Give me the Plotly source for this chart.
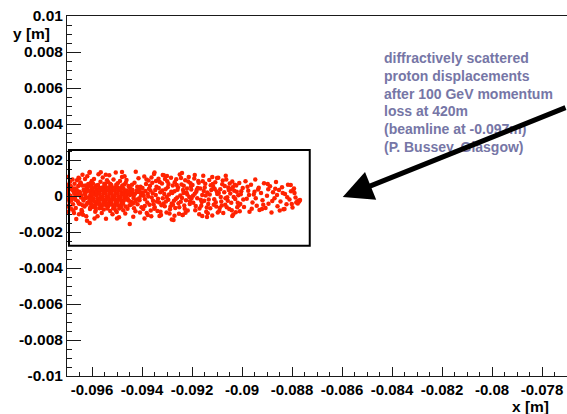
import plotly.graph_objects as go

# ---------------- data (metres) ----------------
# points hugging the left edge (beamline)
x_edge = [-0.09698, -0.09697, -0.09699, -0.09696, -0.09698, -0.09695, -0.09692, -0.09690, -0.09688, -0.09686,
          -0.09684, -0.09682, -0.09680, -0.09678, -0.09676, -0.09674, -0.09672, -0.09670, -0.09694, -0.09691,
          -0.09687, -0.09683, -0.09679, -0.09675, -0.09671]
y_edge = [0.00105, 0.00062, 0.00021, -0.00018, -0.00055, -0.00088, 0.00038, -0.00032, 0.00079, 0.00002,
          -0.00071, 0.00049, -0.00012, 0.00092, -0.00046, 0.00027, -0.00095, 0.00068, 0.00011, -0.00062,
          0.00057, -0.00023, 0.00035, -0.00081, 0.00014]

x_near = [-0.09668, -0.09665, -0.09662, -0.09660, -0.09657, -0.09655, -0.09652, -0.09650, -0.09648, -0.09645,
          -0.09643, -0.09640, -0.09638, -0.09635, -0.09633, -0.09630, -0.09628, -0.09625, -0.09623, -0.09620,
          -0.09618, -0.09615, -0.09613, -0.09610, -0.09608, -0.09605, -0.09603, -0.09601, -0.09666, -0.09658,
          -0.09649, -0.09641, -0.09632, -0.09624, -0.09616, -0.09607, -0.09663, -0.09646, -0.09629, -0.09612,
          -0.09654, -0.09637, -0.09621, -0.09604, -0.09659, -0.09642, -0.09626, -0.09609, -0.09609, -0.09620,
          -0.09667, -0.09661, -0.09653, -0.09647, -0.09639, -0.09634, -0.09627, -0.09622, -0.09617, -0.09611,
          -0.09606, -0.09651, -0.09636, -0.09619, -0.09644]
y_near = [0.00041, -0.00067, 0.00012, 0.00088, -0.00029, 0.00055, -0.00102, 0.00023, -0.00044, 0.00071,
          0.00003, -0.00085, 0.00118, -0.00015, 0.00036, -0.00058, 0.00094, 0.00019, -0.00112, 0.00047,
          -0.00038, 0.00066, -0.00007, 0.00129, -0.00072, 0.00028, -0.00049, 0.00083, -0.00021, 0.00009,
          0.00062, -0.00093, 0.00031, -0.00011, 0.00052, -0.00064, -0.00128, 0.00075, 0.00017, -0.00034,
          0.00102, -0.00052, 0.00042, -0.00004, 0.00025, -0.00078, 0.00058, 0.00134, -0.00150, -0.00138,
          -0.00003, 0.00034, -0.00041, 0.00016, 0.00058, -0.00025, 0.00005, -0.00047, 0.00029, -0.00011,
          0.00010, 0.00097, -0.00104, 0.00110, -0.00009]

# dense core of the distribution
x_core = [-0.09594, -0.09591, -0.09595, -0.09592,
          -0.09582, -0.09580, -0.09583, -0.09579, -0.09581, -0.09584,
          -0.09570, -0.09568, -0.09571, -0.09567, -0.09569, -0.09572, -0.09568,
          -0.09556, -0.09558, -0.09555, -0.09559, -0.09557, -0.09554, -0.09558,
          -0.09546, -0.09544, -0.09547, -0.09543, -0.09545, -0.09548, -0.09544,
          -0.09532, -0.09534, -0.09531, -0.09535, -0.09533, -0.09530, -0.09534,
          -0.09522, -0.09520, -0.09523, -0.09519, -0.09521, -0.09524, -0.09520,
          -0.09508, -0.09510, -0.09507, -0.09511, -0.09509, -0.09506, -0.09510,
          -0.09498, -0.09496, -0.09499, -0.09495, -0.09497, -0.09500, -0.09496,
          -0.09484, -0.09486, -0.09483, -0.09487, -0.09485, -0.09482, -0.09486,
          -0.09474, -0.09472, -0.09475, -0.09471, -0.09473, -0.09476,
          -0.09462, -0.09460, -0.09463, -0.09459]
y_core = [0.00025, 0.00008, -0.00012, -0.00029,
          0.00038, 0.00021, 0.00004, -0.00014, -0.00031, -0.00046,
          0.00046, 0.00030, 0.00013, -0.00004, -0.00021, -0.00037, -0.00052,
          0.00049, 0.00032, 0.00015, -0.00002, -0.00019, -0.00035, -0.00050,
          0.00050, 0.00033, 0.00016, -0.00001, -0.00018, -0.00034, -0.00051,
          0.00048, 0.00031, 0.00014, -0.00003, -0.00020, -0.00036, -0.00053,
          0.00051, 0.00034, 0.00017, 0.00000, -0.00017, -0.00033, -0.00049,
          0.00047, 0.00030, 0.00013, -0.00004, -0.00021, -0.00037, -0.00054,
          0.00049, 0.00032, 0.00015, -0.00002, -0.00019, -0.00035, -0.00051,
          0.00046, 0.00029, 0.00012, -0.00005, -0.00022, -0.00038, -0.00053,
          0.00041, 0.00024, 0.00007, -0.00010, -0.00027, -0.00043,
          0.00030, 0.00013, -0.00004, -0.00021]

# halo around the core (x from -0.0961 to -0.0940)
x_halo = [-0.09605, -0.09598, -0.09592, -0.09587, -0.09583, -0.09578, -0.09574, -0.09570, -0.09566, -0.09561,
          -0.09557, -0.09553, -0.09548, -0.09544, -0.09540, -0.09536, -0.09531, -0.09527, -0.09523, -0.09518,
          -0.09514, -0.09510, -0.09505, -0.09501, -0.09497, -0.09492, -0.09488, -0.09484, -0.09480, -0.09475,
          -0.09471, -0.09467, -0.09462, -0.09458, -0.09454, -0.09450, -0.09446, -0.09442, -0.09438, -0.09434,
          -0.09430, -0.09426, -0.09422, -0.09418, -0.09414, -0.09410, -0.09406, -0.09402, -0.09448, -0.09444,
          -0.09436, -0.09428, -0.09420, -0.09412, -0.09404, -0.09452, -0.09440, -0.09432, -0.09416, -0.09408,
          -0.09480, -0.09449, -0.09425, -0.09590, -0.09565, -0.09545, -0.09500, -0.09470, -0.09435, -0.09560,
          -0.09540, -0.09600, -0.09602, -0.09455, -0.09457,
          -0.09612, -0.09606, -0.09599, -0.09603, -0.09597, -0.09588, -0.09586, -0.09576, -0.09563, -0.09551,
          -0.09539, -0.09527, -0.09515, -0.09503, -0.09491, -0.09479, -0.09466, -0.09451, -0.09445, -0.09439,
          -0.09433, -0.09427, -0.09419, -0.09411, -0.09405, -0.09596, -0.09585, -0.09535, -0.09505, -0.09465]
y_halo = [0.00072, -0.00061, 0.00095, -0.00088, 0.00058, -0.00112, 0.00121, -0.00068, 0.00079, -0.00094,
          0.00103, -0.00075, 0.00066, -0.00127, 0.00087, -0.00059, 0.00115, -0.00083, 0.00061, -0.00101,
          0.00092, -0.00066, 0.00131, -0.00089, 0.00071, -0.00118, 0.00084, -0.00062, 0.00105, -0.00079,
          0.00064, -0.00097, 0.00089, -0.00071, 0.00056, -0.00052, 0.00042, -0.00033, 0.00018, -0.00011,
          0.00074, -0.00085, 0.00031, -0.00046, 0.00098, -0.00024, 0.00051, -0.00063, 0.00006, 0.00027,
          -0.00041, 0.00012, -0.00019, 0.00036, 0.00003, -0.00026, 0.00063, -0.00068, 0.00022, -0.00092,
          0.00133, -0.00156, 0.00135, -0.00125, 0.00132, 0.00118, -0.00125, 0.00110, -0.00115, 0.00042,
          -0.00040, 0.00040, -0.00020, 0.00025, -0.00015,
          0.00031, -0.00038, 0.00012, 0.00055, -0.00052, 0.00048, -0.00062, 0.00061, -0.00066, 0.00068,
          -0.00070, 0.00066, -0.00068, 0.00063, -0.00069, 0.00058, -0.00058, 0.00047, -0.00048, 0.00035,
          0.00002, -0.00030, 0.00051, -0.00012, 0.00021, 0.00070, -0.00078, 0.00076, -0.00080, 0.00073]

# x from -0.0940 to -0.0920
x_mid1 = [-0.09398, -0.09395, -0.09391, -0.09388, -0.09384, -0.09381, -0.09377, -0.09374, -0.09370, -0.09366,
          -0.09363, -0.09359, -0.09356, -0.09352, -0.09349, -0.09345, -0.09342, -0.09338, -0.09334, -0.09331,
          -0.09327, -0.09324, -0.09320, -0.09317, -0.09313, -0.09309, -0.09306, -0.09302, -0.09299, -0.09295,
          -0.09292, -0.09288, -0.09284, -0.09281, -0.09277, -0.09274, -0.09270, -0.09267, -0.09263, -0.09259,
          -0.09256, -0.09252, -0.09249, -0.09245, -0.09242, -0.09238, -0.09234, -0.09231, -0.09227, -0.09224,
          -0.09220, -0.09217, -0.09213, -0.09209, -0.09206, -0.09202, -0.09393, -0.09386, -0.09379, -0.09368,
          -0.09361, -0.09354, -0.09347, -0.09336, -0.09329, -0.09322, -0.09311, -0.09304, -0.09297, -0.09286,
          -0.09279, -0.09272, -0.09261, -0.09254, -0.09247, -0.09236, -0.09229, -0.09222, -0.09211, -0.09204,
          -0.09377, -0.09330, -0.09281, -0.09237, -0.09317, -0.09240, -0.09350, -0.09390,
          -0.09396, -0.09389, -0.09382, -0.09375, -0.09372, -0.09365, -0.09357, -0.09351, -0.09344, -0.09340,
          -0.09333, -0.09326, -0.09319, -0.09314, -0.09308, -0.09301, -0.09294, -0.09290, -0.09283, -0.09276,
          -0.09269, -0.09265, -0.09258, -0.09251, -0.09244, -0.09240, -0.09233, -0.09226, -0.09219, -0.09215,
          -0.09208, -0.09203, -0.09362, -0.09300, -0.09270]
y_mid1 = [0.00045, -0.00072, 0.00108, -0.00018, 0.00067, -0.00095, 0.00013, 0.00086, -0.00049, 0.00031,
          -0.00112, 0.00074, -0.00027, 0.00122, -0.00063, 0.00005, 0.00052, -0.00084, 0.00096, -0.00036,
          0.00021, -0.00106, 0.00069, -0.00012, 0.00115, -0.00057, 0.00038, -0.00091, 0.00082, -0.00021,
          0.00008, -0.00074, 0.00101, -0.00041, 0.00059, -0.00133, 0.00026, -0.00066, 0.00093, -0.00009,
          0.00047, -0.00099, 0.00119, -0.00032, 0.00064, -0.00106, 0.00017, -0.00053, 0.00088, -0.00024,
          0.00042, -0.00081, 0.00106, -0.00045, 0.00071, -0.00014, 0.00002, 0.00028, -0.00036, 0.00057,
          -0.00008, -0.00046, 0.00033, -0.00015, 0.00078, -0.00052, 0.00011, -0.00030, 0.00049, -0.00058,
          0.00016, -0.00026, 0.00061, -0.00040, 0.00003, 0.00034, -0.00071, 0.00019, -0.00006, 0.00053,
          -0.00106, -0.00111, -0.00131, -0.00106, 0.00117, 0.00128, 0.00130, -0.00125,
          0.00019, -0.00055, 0.00091, -0.00003, 0.00040, -0.00081, 0.00015, -0.00071, 0.00083, -0.00031,
          0.00044, -0.00088, 0.00030, -0.00041, 0.00095, -0.00006, 0.00066, -0.00097, 0.00024, -0.00048,
          0.00077, -0.00017, 0.00035, -0.00062, 0.00100, -0.00011, 0.00057, -0.00093, 0.00009, 0.00080,
          -0.00029, 0.00036, 0.00103, 0.00111, -0.00110]

# x from -0.0920 to -0.0900
x_mid2 = [-0.09198, -0.09195, -0.09191, -0.09187, -0.09183, -0.09179, -0.09175, -0.09171, -0.09167, -0.09163,
          -0.09159, -0.09155, -0.09151, -0.09147, -0.09143, -0.09139, -0.09135, -0.09131, -0.09127, -0.09123,
          -0.09119, -0.09115, -0.09111, -0.09107, -0.09103, -0.09099, -0.09095, -0.09091, -0.09087, -0.09083,
          -0.09079, -0.09075, -0.09071, -0.09067, -0.09063, -0.09059, -0.09055, -0.09051, -0.09047, -0.09043,
          -0.09039, -0.09035, -0.09031, -0.09027, -0.09023, -0.09019, -0.09015, -0.09011, -0.09007, -0.09003,
          -0.09189, -0.09177, -0.09165, -0.09153, -0.09141, -0.09129, -0.09117, -0.09105, -0.09093, -0.09081,
          -0.09069, -0.09057, -0.09045, -0.09033, -0.09021, -0.09009, -0.09189, -0.09159, -0.09119, -0.09100,
          -0.09039, -0.09065, -0.09140,
          -0.09196, -0.09185, -0.09173, -0.09161, -0.09149, -0.09137, -0.09125, -0.09113, -0.09101, -0.09089,
          -0.09077, -0.09066, -0.09053, -0.09041, -0.09029, -0.09017, -0.09005, -0.09181, -0.09157, -0.09133,
          -0.09109, -0.09085, -0.09061, -0.09037, -0.09013, -0.09145, -0.09097, -0.09049, -0.09025, -0.09170]
y_mid2 = [0.00061, -0.00038, 0.00097, -0.00079, 0.00024, -0.00012, 0.00083, -0.00101, 0.00041, -0.00054,
          0.00006, 0.00112, -0.00027, 0.00068, -0.00088, 0.00019, -0.00045, 0.00089, -0.00068, 0.00033,
          -0.00108, 0.00052, -0.00018, 0.00076, -0.00059, 0.00011, 0.00101, -0.00084, 0.00037, -0.00031,
          0.00065, -0.00095, 0.00021, -0.00049, 0.00092, -0.00007, 0.00047, -0.00072, 0.00014, -0.00038,
          0.00081, -0.00103, 0.00029, -0.00016, 0.00058, -0.00063, 0.00004, 0.00072, -0.00044, 0.00026,
          0.00012, 0.00045, -0.00021, 0.00028, -0.00064, 0.00008, 0.00066, -0.00035, 0.00017, -0.00053,
          0.00056, -0.00026, 0.00039, -0.00005, 0.00023, -0.00085, 0.00117, -0.00111, 0.00106, 0.00100,
          -0.00111, 0.00113, -0.00116,
          0.00002, -0.00056, 0.00073, -0.00033, 0.00047, -0.00096, 0.00060, -0.00048, 0.00025, -0.00067,
          0.00086, -0.00013, 0.00034, -0.00079, 0.00062, -0.00037, 0.00010, 0.00035, 0.00082, -0.00019,
          0.00039, -0.00006, -0.00062, 0.00048, -0.00052, 0.00003, -0.00091, 0.00070, -0.00090, -0.00070]

# tail of the distribution, x from -0.0900 to -0.0877
x_tail = [-0.08997, -0.08992, -0.08986, -0.08981, -0.08975, -0.08970, -0.08964, -0.08958, -0.08953, -0.08947,
          -0.08941, -0.08936, -0.08930, -0.08924, -0.08918, -0.08912, -0.08906, -0.08900, -0.08894, -0.08888,
          -0.08882, -0.08876, -0.08870, -0.08864, -0.08858, -0.08852, -0.08846, -0.08840, -0.08834, -0.08828,
          -0.08822, -0.08816, -0.08810, -0.08804, -0.08798, -0.08792, -0.08786, -0.08780, -0.08775, -0.08771,
          -0.08768, -0.08805, -0.08795, -0.08830, -0.08920, -0.08972, -0.08945, -0.08895, -0.08860, -0.08783,
          -0.08995, -0.08978, -0.08961, -0.08950, -0.08933, -0.08915, -0.08897, -0.08879, -0.08867, -0.08849,
          -0.08837, -0.08819, -0.08801, -0.08790, -0.08777]
y_tail = [0.00044, -0.00061, 0.00082, -0.00015, 0.00029, -0.00088, 0.00063, -0.00036, 0.00008, 0.00091,
          -0.00054, 0.00036, -0.00078, 0.00017, -0.00024, 0.00071, -0.00067, 0.00002, -0.00043, 0.00054,
          -0.00091, 0.00021, -0.00012, 0.00078, -0.00057, 0.00033, -0.00031, 0.00048, -0.00073, 0.00011,
          -0.00046, 0.00062, -0.00019, 0.00027, -0.00064, 0.00041, -0.00008, -0.00033, -0.00026, -0.00031,
          -0.00022, 0.00061, 0.00033, -0.00072, -0.00072, 0.00005, -0.00012, 0.00038, 0.00005, -0.00036,
          -0.00019, 0.00052, -0.00071, 0.00023, 0.00046, -0.00049, 0.00067, -0.00028, 0.00040, -0.00080,
          0.00017, -0.00007, -0.00045, 0.00016, -0.00042]

x_ticks = [-0.096, -0.094, -0.092, -0.090, -0.088, -0.086, -0.084, -0.082, -0.080, -0.078]
x_tick_text = ["-0.096", "-0.094", "-0.092", "-0.09", "-0.088", "-0.086", "-0.084", "-0.082", "-0.08", "-0.078"]
y_ticks = [0.010, 0.008, 0.006, 0.004, 0.002, 0.0, -0.002, -0.004, -0.006, -0.008, -0.010]
y_tick_text = ["0.01", "0.008", "0.006", "0.004", "0.002", "0", "-0.002", "-0.004", "-0.006", "-0.008", "-0.01"]

note_lines = ["diffractively scattered", "proton displacements", "after 100 GeV momentum",
              "loss at 420m", "(beamline at -0.097m)", "(P. Bussey, Glasgow)"]

# acceptance box and arrow tip (metres)
box_x = [-0.09692, -0.08729]
box_y = [-0.00276, 0.00256]
arrow_tip = [-0.08597, -0.00006]

# ---------------- figure ----------------
W, H = 567, 414
L, R, T, B = 67, 0, 16, 38
PW, PH = W - L - R, H - T - B


def px(xp):
    return (xp - L) / PW


def py(yp):
    return (H - B - yp) / PH


xs = x_edge + x_near + x_core + x_halo + x_mid1 + x_mid2 + x_tail
ys = y_edge + y_near + y_core + y_halo + y_mid1 + y_mid2 + y_tail

FONT = "Liberation Sans, Arial, Helvetica, sans-serif"
AX = "#1a1a1a"

fig = go.Figure()
fig.add_trace(go.Scatter(x=xs, y=ys, mode="markers",
                         marker=dict(size=4.5, color="#ff2200", line=dict(width=0)),
                         hoverinfo="skip", showlegend=False))

fig.update_layout(
    width=W, height=H,
    margin=dict(l=L, r=R, t=T, b=B, pad=0),
    paper_bgcolor="white", plot_bgcolor="white",
    showlegend=False,
    xaxis=dict(range=[-0.097, -0.077], showgrid=False, zeroline=False,
               showline=True, linecolor=AX, linewidth=1, mirror=True,
               ticks="inside", ticklen=9, tickwidth=1, tickcolor=AX,
               tickmode="array", tickvals=x_ticks, ticktext=x_tick_text,
               tickfont=dict(family=FONT, size=15, color="black", weight="bold"),
               minor=dict(tickmode="linear", tick0=-0.097, dtick=0.0005, ticks="inside",
                          ticklen=4, tickwidth=1, tickcolor=AX, showgrid=False)),
    yaxis=dict(range=[-0.010, 0.010], showgrid=False, zeroline=False,
               showline=True, linecolor=AX, linewidth=1, mirror=False,
               ticks="inside", ticklen=14, tickwidth=1, tickcolor=AX,
               tickmode="array", tickvals=y_ticks, ticktext=y_tick_text,
               tickfont=dict(family=FONT, size=15.5, color="black", weight="bold"),
               minor=dict(tickmode="linear", tick0=-0.010, dtick=0.0005, ticks="inside",
                          ticklen=5, tickwidth=1, tickcolor=AX, showgrid=False)),
)

fig.add_shape(type="rect", xref="x", yref="y",
              x0=box_x[0], x1=box_x[1], y0=box_y[0], y1=box_y[1],
              line=dict(color="black", width=2), fillcolor="rgba(0,0,0,0)")

annots = []
annots.append(dict(xref="paper", yref="paper", x=px(52), y=py(33), xanchor="right", yanchor="middle",
                   text="y [m]", showarrow=False,
                   font=dict(family=FONT, size=15.5, color="black", weight="bold")))
annots.append(dict(xref="paper", yref="paper", x=px(551), y=py(407), xanchor="right", yanchor="middle",
                   text="x [m]", showarrow=False,
                   font=dict(family=FONT, size=15.5, color="black", weight="bold")))
for i, line in enumerate(note_lines):
    annots.append(dict(xref="paper", yref="paper", x=px(382), y=py(58 + 17.8 * i),
                       xanchor="left", yanchor="middle", text=line, showarrow=False,
                       font=dict(family=FONT, size=14, color="#7676a6", weight="bold")))
annots.append(dict(xref="x", yref="y", x=arrow_tip[0], y=arrow_tip[1], text="",
                   showarrow=True, axref="pixel", ayref="pixel", ax=240, ay=-90,
                   arrowhead=2, arrowsize=1.2, arrowwidth=5, arrowcolor="black", standoff=0))
fig.update_layout(annotations=annots)

fig.write_html("out.html")
